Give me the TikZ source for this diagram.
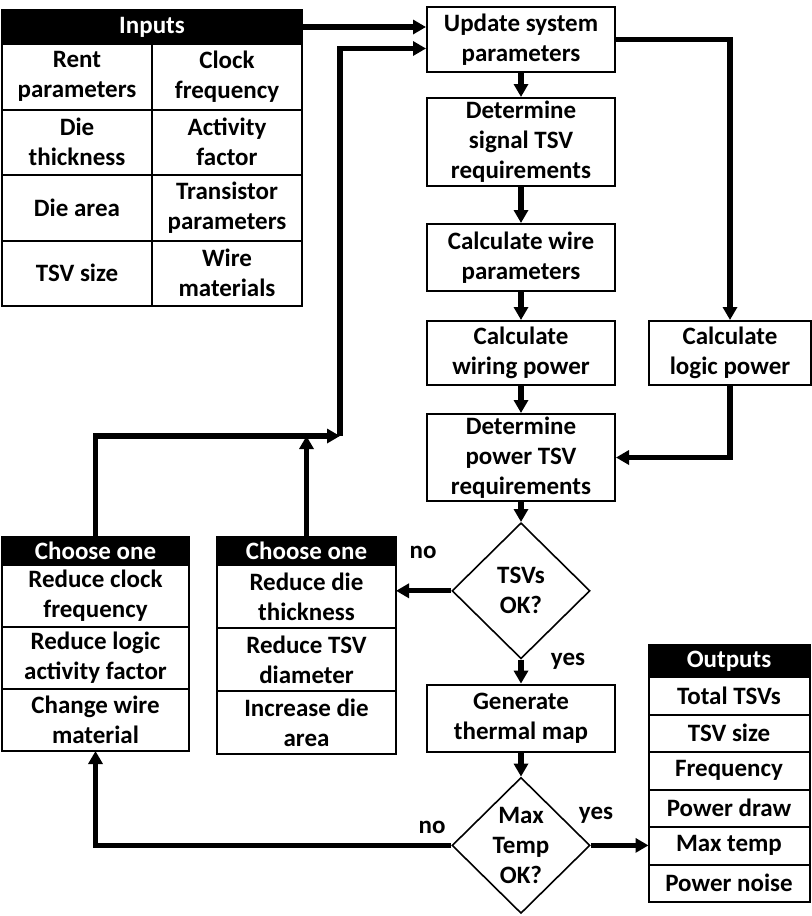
\documentclass[tikz,border=0pt]{standalone}
\usepackage{fontspec}
\setmainfont{Carlito}
\usetikzlibrary{arrows.meta, positioning, shapes.geometric}

\begin{document}
\begin{tikzpicture}[
    x=0.5pt, y=-0.5pt,
    every node/.style={font=\fontsize{12.5}{15}\selectfont\bfseries, align=center},
    box/.style={rectangle, draw, line width=1pt, minimum width=94pt, inner sep=1pt},
    dec/.style={diamond, draw, line width=0.8pt, minimum width=69pt, minimum height=68pt, inner sep=0pt},
    head/.style={rectangle, draw, fill=black, text=white, line width=1pt, outer sep=0pt, inner sep=0pt},
    cell/.style={rectangle, draw, line width=1pt, outer sep=0pt, inner sep=0pt},
    arrow/.style={-{Triangle[length=6.5pt, width=7pt]}, line width=2.6pt},
    lbl/.style={inner sep=0pt}
]
\useasboundingbox (0,0) rectangle (811,916);

% Inputs table
\node[head, minimum width=150pt, minimum height=17pt] (inhead) at (152,27) {Inputs};
\node[cell, minimum width=75pt, minimum height=32.75pt, anchor=north west] (rent) at (inhead.south west) {Rent\\parameters};
\node[cell, minimum width=75pt, minimum height=32.75pt, right=0pt of rent] (clock) {Clock\\frequency};
\node[cell, minimum width=75pt, minimum height=32.75pt, below=0pt of rent] (thick) {Die\\thickness};
\node[cell, minimum width=75pt, minimum height=32.75pt, right=0pt of thick] (activ) {Activity\\factor};
\node[cell, minimum width=75pt, minimum height=32.75pt, below=0pt of thick] (area) {Die area};
\node[cell, minimum width=75pt, minimum height=32.75pt, right=0pt of area] (trans) {Transistor\\parameters};
\node[cell, minimum width=75pt, minimum height=32.75pt, below=0pt of area] (tsvsize) {TSV size};
\node[cell, minimum width=75pt, minimum height=32.75pt, right=0pt of tsvsize] (wiremat) {Wire\\materials};

% Main flow
\node[box, minimum height=32.5pt] (upd) at (521,39.5) {Update system\\parameters};
\node[box, minimum height=44pt, below=12pt of upd] (sig) {Determine\\signal TSV\\requirements};
\node[box, minimum height=33.5pt, below=18pt of sig] (wire) {Calculate wire\\parameters};
\node[box, minimum height=32pt, below=14pt of wire] (wpow) {Calculate\\wiring power};
\node[box, minimum height=43.5pt, below=13.5pt of wpow] (ptsv) {Determine\\power TSV\\requirements};
\node[dec, below=10pt of ptsv] (tsvok) {TSVs\\OK?};
\node[box, minimum height=33.5pt, below=12pt of tsvok] (therm) {Generate\\thermal map};
\node[dec, below=12pt of therm] (tempok) {Max\\Temp\\OK?};
\node[box, minimum width=81pt, minimum height=32pt, right=16pt of wpow] (lpow) {Calculate\\logic power};

% Choose one (left)
\node[head, minimum width=93.5pt, minimum height=14pt] (chhead1) at (95.5,551) {Choose one};
\node[cell, minimum width=93.5pt, minimum height=31pt, below=0pt of chhead1] (clk1) {Reduce clock\\frequency};
\node[cell, minimum width=93.5pt, minimum height=31pt, below=0pt of clk1] (act1) {Reduce logic\\activity factor};
\node[cell, minimum width=93.5pt, minimum height=31pt, below=0pt of act1] (wire1) {Change wire\\material};

% Choose one (middle)
\node[head, minimum width=89.5pt, minimum height=14pt] (chhead2) at (306.5,551) {Choose one};
\node[cell, minimum width=89.5pt, minimum height=31.5pt, below=0pt of chhead2] (thick2) {Reduce die\\thickness};
\node[cell, minimum width=89.5pt, minimum height=31.5pt, below=0pt of thick2] (diam2) {Reduce TSV\\diameter};
\node[cell, minimum width=89.5pt, minimum height=31.5pt, below=0pt of diam2] (area2) {Increase die\\area};

% Outputs table
\node[head, minimum width=80.5pt, minimum height=16pt] (outhead) at (729,661) {Outputs};
\node[cell, minimum width=80.5pt, minimum height=18.75pt, below=0pt of outhead] (otsv) {Total TSVs};
\node[cell, minimum width=80.5pt, minimum height=18.75pt, below=0pt of otsv] (osize) {TSV size};
\node[cell, minimum width=80.5pt, minimum height=18.75pt, below=0pt of osize] (ofreq) {Frequency};
\node[cell, minimum width=80.5pt, minimum height=18.75pt, below=0pt of ofreq] (odraw) {Power draw};
\node[cell, minimum width=80.5pt, minimum height=18.75pt, below=0pt of odraw] (otemp) {Max temp};
\node[cell, minimum width=80.5pt, minimum height=18.75pt, below=0pt of otemp] (onoise) {Power noise};

% Decision labels
\node[lbl] (no1) at (423,552) {no};
\node[lbl] (yes1) at (568,661) {yes};
\node[lbl] (no2) at (432,827) {no};
\node[lbl] (yes2) at (596,815) {yes};

\coordinate (join) at (340,436);

% Connectors
\draw[arrow] (inhead.east) -- (inhead.east -| upd.west);
\draw[arrow] (join) |- ([yshift=-4.5pt]upd.west);
\draw[arrow] (chhead1.north) |- (join);
\draw[arrow] (chhead2.north) -- (chhead2.north |- join);

\draw[arrow] (upd) -- (sig);
\draw[arrow] (sig) -- (wire);
\draw[arrow] (wire) -- (wpow);
\draw[arrow] (wpow) -- (ptsv);
\draw[arrow] (ptsv) -- (tsvok);
\draw[arrow] (tsvok) -- (therm);
\draw[arrow] (therm) -- (tempok);

\draw[arrow] (upd.east) -| (lpow.north);
\draw[arrow] (lpow.south) |- (ptsv.east);

\draw[arrow] (tsvok.west) -- (tsvok.west -| thick2.east);
\draw[arrow] (tempok.west) -| (wire1.south);
\draw[arrow] (tempok.east) -- (tempok.east -| otemp.west);

\end{tikzpicture}
\end{document}
